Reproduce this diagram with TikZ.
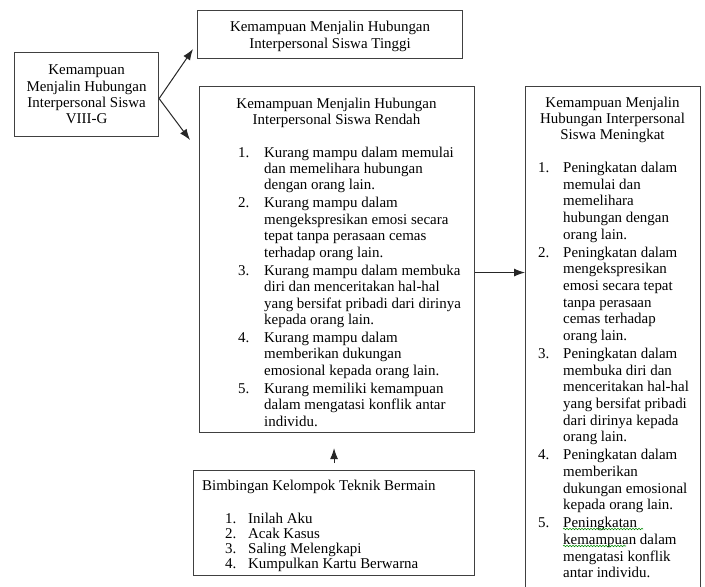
\documentclass[tikz,border=0pt]{standalone}
\usepackage{fontspec}
\setmainfont{Liberation Serif}
\usetikzlibrary{arrows.meta,decorations.pathmorphing}
\newcommand\lnum[2][26bp]{\makebox[#1][l]{#2}}
\newcommand\lcont[1][26bp]{\hspace*{#1}}
\begin{document}
\begin{tikzpicture}[x=1bp,y=-1bp,
  box/.style={draw=black!75, line width=1.1bp, rectangle, inner sep=0pt, anchor=north west},
  txt/.style={inner sep=0pt, text=black, font=\fontsize{15}{16.5}\selectfont},
  arr/.style={-{Latex[length=11bp,width=8bp]}, line width=1bp, draw=black!85},
  spell/.style={draw=green!55!black, line width=0.6bp, decorate, decoration={snake, amplitude=0.7bp, segment length=3bp}}]
\useasboundingbox (0,0) rectangle (705,587);
\fill[white] (0,0) rectangle (705,587);

% boxes
\node[box, minimum width=144bp, minimum height=84bp] (src) at (14,52) {};
\node[box, minimum width=265bp, minimum height=48bp] (top) at (197,10) {};
\node[box, minimum width=275bp, minimum height=346bp] (mid) at (199,86) {};
\node[box, minimum width=175bp, minimum height=520bp] (rt) at (525,86) {};
\node[box, minimum width=281bp, minimum height=105bp] (bot) at (193,470) {};

% texts
\node[txt, align=center] (srct) at (src.center) {Kemampuan\\Menjalin Hubungan\\Interpersonal Siswa\\VIII-G};
\node[txt, align=center, yshift=-2bp] (topt) at (top.center) {Kemampuan Menjalin Hubungan\\Interpersonal Siswa Tinggi};

\node[txt, align=center, anchor=north] (midt) at (336.5,97.5) {Kemampuan Menjalin Hubungan\\Interpersonal Siswa Rendah};
\node[txt, align=left, anchor=north west] (midl) at (238,146.5) {%
\lnum{1.}Kurang mampu dalam memulai\\
\lcont dan memelihara hubungan\\
\lcont dengan orang lain.\\[1.5bp]
\lnum{2.}Kurang mampu dalam\\
\lcont mengekspresikan emosi secara\\
\lcont tepat tanpa perasaan cemas\\
\lcont terhadap orang lain.\\[1.5bp]
\lnum{3.}Kurang mampu dalam membuka\\
\lcont diri dan menceritakan hal-hal\\
\lcont yang bersifat pribadi dari dirinya\\
\lcont kepada orang lain.\\[1.5bp]
\lnum{4.}Kurang mampu dalam\\
\lcont memberikan dukungan\\
\lcont emosional kepada orang lain.\\[1.5bp]
\lnum{5.}Kurang memiliki kemampuan\\
\lcont dalam mengatasi konflik antar\\
\lcont individu.};

\node[txt, align=center, anchor=north] (rtt) at (612.5,96.5) {Kemampuan Menjalin\\Hubungan Interpersonal\\Siswa Meningkat};
\node[txt, font=\fontsize{15}{16.7}\selectfont, align=left, anchor=north west] (rtl) at (538,162) {%
\lnum[25bp]{1.}Peningkatan dalam\\
\lcont[25bp]memulai dan\\
\lcont[25bp]memelihara\\
\lcont[25bp]hubungan dengan\\
\lcont[25bp]orang lain.\\[1.5bp]
\lnum[25bp]{2.}Peningkatan dalam\\
\lcont[25bp]mengekspresikan\\
\lcont[25bp]emosi secara tepat\\
\lcont[25bp]tanpa perasaan\\
\lcont[25bp]cemas terhadap\\
\lcont[25bp]orang lain.\\[1.5bp]
\lnum[25bp]{3.}Peningkatan dalam\\
\lcont[25bp]membuka diri dan\\
\lcont[25bp]menceritakan hal-hal\\
\lcont[25bp]yang bersifat pribadi\\
\lcont[25bp]dari dirinya kepada\\
\lcont[25bp]orang lain.\\[1.5bp]
\lnum[25bp]{4.}Peningkatan dalam\\
\lcont[25bp]memberikan\\
\lcont[25bp]dukungan emosional\\
\lcont[25bp]kepada orang lain.\\[1.5bp]
\lnum[25bp]{5.}Peningkatan\\
\lcont[25bp]kemampuan dalam\\
\lcont[25bp]mengatasi konflik\\
\lcont[25bp]antar individu.};

% spell-check marks under item 5
\draw[spell] (563,529) -- (643,529);
\draw[spell] (563,546) -- (626,546);

\node[txt, align=left, anchor=north west] (bott) at (202,480) {Bimbingan Kelompok Teknik Bermain};
\node[txt, font=\fontsize{15}{15}\selectfont, align=left, anchor=north west] (botl) at (225,513) {%
\lnum[23bp]{1.}Inilah Aku\\
\lnum[23bp]{2.}Acak Kasus\\
\lnum[23bp]{3.}Saling Melengkapi\\
\lnum[23bp]{4.}Kumpulkan Kartu Berwarna};

% connectors
\draw[arr] ([yshift=-4bp]src.east) -- ([xshift=-4bp,yshift=10bp]top.south west);
\draw[arr] ([yshift=-4bp]src.east) -- ([xshift=-9bp,yshift=-54bp]mid.north west);
\draw[arr] ([yshift=-13bp]mid.east) -- ([yshift=-13bp]mid.east -| rt.west);
\draw[arr] ([yshift=7bp]bot.north) -- ([yshift=-15bp]mid.south -| bot.north);
\end{tikzpicture}
\end{document}
